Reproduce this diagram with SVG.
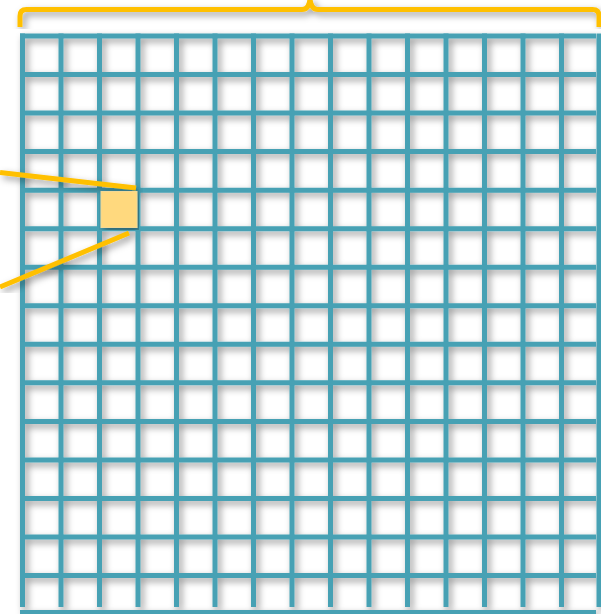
<svg xmlns="http://www.w3.org/2000/svg" width="601" height="614" viewBox="0 0 601 614">
  <defs>
    <filter id="sh" x="-5%" y="-5%" width="110%" height="110%">
      <feDropShadow dx="3" dy="3.5" stdDeviation="3.5" flood-color="#000" flood-opacity="0.4"/>
    </filter>
    <style>
      .grid { stroke: #46a1b4; stroke-width: 5; fill: none; }
      .gold { stroke: #ffc000; stroke-width: 5; fill: none; }
    </style>
  </defs>
  <rect width="601" height="614" fill="#ffffff"/>
  <g id="brace" filter="url(#sh)">
    <path class="gold" d="M20,27 V16 Q20,9.5 26.5,9.5 H302 Q309,9.5 310,-1 Q311,9.5 318,9.5 H592.5 Q599,9.5 599,16 V27"/>
  </g>
  <g id="grid" class="grid" filter="url(#sh)">
    <path d="M22.5,33.5 V607 M61,33.5 V607 M99.5,33.5 V607 M138,33.5 V607 M176.5,33.5 V607 M215,33.5 V607 M253.5,33.5 V607 M292,33.5 V607 M330.5,33.5 V607 M369,33.5 V607 M407.5,33.5 V607 M446,33.5 V607 M484.5,33.5 V607 M523,33.5 V607 M561.5,33.5 V607 M599,33.5 V607"/>
    <path d="M20,36 H596 M20,74.54 H596 M20,113.08 H596 M20,151.62 H596 M20,190.16 H596 M20,228.7 H596 M20,267.24 H596 M20,305.78 H596 M20,344.32 H596 M20,382.86 H596 M20,421.4 H596 M20,459.94 H596 M20,498.48 H596 M20,537.02 H596 M20,575.56 H596 M20,612.5 H596"/>
  </g>
  <g id="connectors" filter="url(#sh)">
    <line class="gold" x1="0" y1="172.5" x2="136" y2="188"/>
    <line class="gold" x1="0" y1="287" x2="129" y2="233"/>
  </g>
  <g id="cell" filter="url(#sh)">
    <rect x="101" y="191.5" width="36" height="36" fill="#ffd97e" stroke="#f2d896" stroke-width="1"/>
  </g>
</svg>
